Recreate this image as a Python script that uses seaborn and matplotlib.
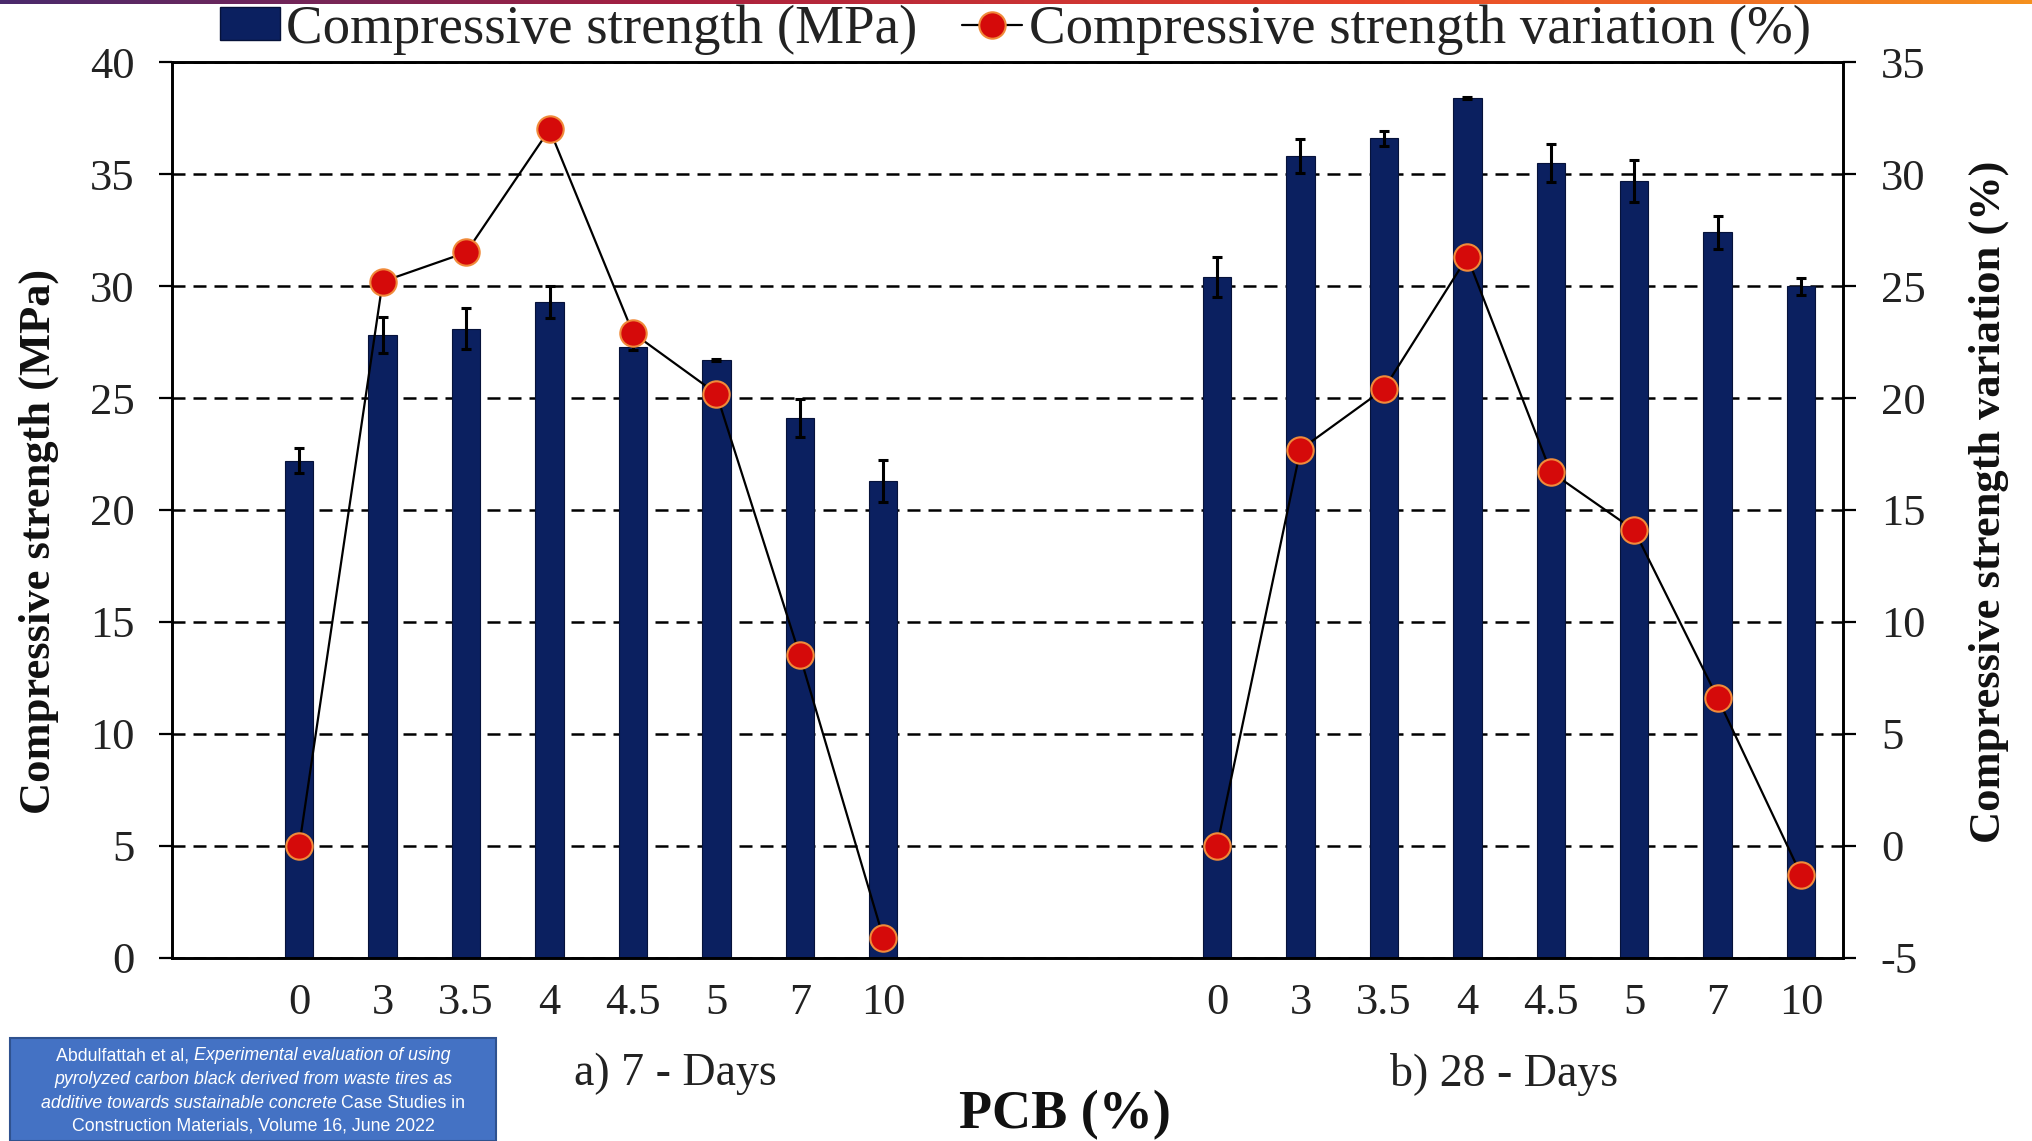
import numpy as np
import pandas as pd
import matplotlib
matplotlib.use('Agg')
import matplotlib.pyplot as plt
import seaborn as sns
from matplotlib.patches import Patch, Rectangle
from matplotlib.lines import Line2D
from matplotlib.colors import LinearSegmentedColormap
import matplotlib.font_manager as fm

# ---------------- data ----------------
pcb_labels = ['0', '3', '3.5', '4', '4.5', '5', '7', '10']
strength_7d = [22.2, 27.8, 28.1, 29.3, 27.3, 26.7, 24.1, 21.3]
err_7d = [0.55, 0.8, 0.92, 0.72, 0.15, 0.06, 0.85, 0.95]
variation_7d = [0.0, 25.2, 26.5, 32.0, 22.9, 20.2, 8.5, -4.1]
strength_28d = [30.4, 35.8, 36.6, 38.4, 35.5, 34.7, 32.4, 30.0]
err_28d = [0.9, 0.75, 0.33, 0.06, 0.85, 0.95, 0.73, 0.38]
variation_28d = [0.0, 17.7, 20.4, 26.3, 16.7, 14.1, 6.6, -1.3]
group_labels = ['a) 7 - Days', 'b) 28 - Days']
legend_labels = ['Compressive strength (MPa)', 'Compressive strength variation (%)']
y_left_label = 'Compressive strength (MPa)'
y_right_label = 'Compressive strength variation (%)'
x_label = 'PCB (%)'

NAVY = '#0b2060'
RED = '#d50a0a'
ORANGE = '#f08a3a'

n = len(pcb_labels)
gap = 4
pos_7 = list(range(n))
pos_28 = [p + n - 1 + gap for p in range(n)]

df = pd.DataFrame({
    'pos': pos_7 + pos_28,
    'strength': strength_7d + strength_28d,
    'err': err_7d + err_28d,
    'variation': variation_7d + variation_28d,
    'age': ['7'] * n + ['28'] * n,
})

# ---------------- style ----------------
sns.set_style('white')
plt.rcParams['font.family'] = ['Liberation Serif', 'DejaVu Serif']
plt.rcParams['axes.unicode_minus'] = False

W, H = 2032, 1141
fig = plt.figure(figsize=(W / 100, H / 100), dpi=100)
fig.patch.set_facecolor('white')

L, R, T, B = 172.4, 1842.8, 62.2, 957.7
ax = fig.add_axes([L / W, 1 - B / H, (R - L) / W, (B - T) / H])

sns.barplot(data=df, x='pos', y='strength', native_scale=True, width=0.34,
            color=NAVY, saturation=1, errorbar=None, edgecolor='#06123a',
            linewidth=0.8, ax=ax)
ax.errorbar(df['pos'], df['strength'], yerr=df['err'], fmt='none',
            ecolor='black', elinewidth=2.2, capsize=3.5, capthick=2.2, zorder=3)

ax.set_ylim(0, 40)
ax.set_yticks(np.arange(0, 41, 5))
ax.set_xlim(-1.52, pos_28[-1] + 0.5)
ax.set_xticks(df['pos'])
ax.set_xticklabels(pcb_labels * 2)
ax.set_axisbelow(True)
ax.yaxis.grid(True, color='black', linestyle=(0, (5.2, 3.2)), linewidth=1.8)
ax.xaxis.grid(False)
ax.set_xlabel('')
ax.set_ylabel('')

ax2 = ax.twinx()
sns.lineplot(data=df, x='pos', y='variation', units='age', estimator=None,
             sort=True, color='black', linewidth=1.6, marker='o', markersize=19,
             markerfacecolor=RED, markeredgecolor=ORANGE, markeredgewidth=1.5,
             ax=ax2, legend=False)
ax2.set_ylim(-5, 35)
ax2.set_yticks(np.arange(-5, 36, 5))
ax2.set_xlim(-1.52, pos_28[-1] + 0.5)
ax2.set_xlabel('')
ax2.set_ylabel('')

for a in (ax, ax2):
    for s in a.spines.values():
        s.set_visible(True)
        s.set_color('black')
        s.set_linewidth(1.9)

ax.tick_params(axis='y', left=True, right=False, direction='out', length=9.4,
               width=1.6, labelsize=32, pad=18, colors='black', labelcolor='#222222')
ax.tick_params(axis='x', bottom=False, length=0, labelsize=32, pad=18,
               labelcolor='#222222')
ax2.tick_params(axis='y', right=True, left=False, direction='out', length=9.4,
                width=1.6, labelsize=32, pad=18, colors='black', labelcolor='#222222')

# axis titles
fig.text(39 / W, 1 - 541 / H, y_left_label, rotation=90, ha='center', va='center',
         fontsize=32, fontweight='bold', color='#111111')
fig.text(1989 / W, 1 - 502 / H, y_right_label, rotation=90, ha='center', va='center',
         fontsize=32, fontweight='bold', color='#111111')
fig.text(1065 / W, 1 - 1115 / H, x_label, ha='center', va='center',
         fontsize=39, fontweight='bold', color='#111111')
fig.text(675 / W, 1 - 1074 / H, group_labels[0], ha='center', va='center',
         fontsize=33, color='#222222')
fig.text(1504 / W, 1 - 1074 / H, group_labels[1], ha='center', va='center',
         fontsize=33, color='#222222')

# legend
handles = [
    Patch(facecolor=NAVY, edgecolor='#06123a'),
    Line2D([], [], color='black', lw=1.6, marker='o', markersize=19,
           markerfacecolor=RED, markeredgecolor=ORANGE, markeredgewidth=1.5),
]
fig.legend(handles, legend_labels, loc='center', bbox_to_anchor=(1015 / W, 1 - 30 / H),
           ncol=2, frameon=False, fontsize=39.5, handlelength=1.1, handleheight=0.55,
           handletextpad=0.12, columnspacing=0.8, labelcolor='#222222')

# top gradient strip
cmap = LinearSegmentedColormap.from_list('strip', ['#4a2a6c', '#a8203f', '#e8432a', '#f5901e'])
ax_top = fig.add_axes([0, 1 - 4 / H, 1, 4 / H])
ax_top.imshow(np.linspace(0, 1, 512)[None, :], aspect='auto', cmap=cmap)
ax_top.set_axis_off()

# citation box
fig.patches.append(Rectangle((10 / W, 0), 486 / W, (1141 - 1038) / H,
                             transform=fig.transFigure, facecolor='#4472c4',
                             edgecolor='#2f528f', linewidth=1.5, zorder=5))
names = {f.name for f in fm.fontManager.ttflist}
if 'Liberation Sans Narrow' in names:
    bfont, bsize = 'Liberation Sans Narrow', 14.5
else:
    bfont, bsize = 'Liberation Sans', 12.8

citation_lines = [
    [('Abdulfattah et al,', 'normal'), ('Experimental evaluation of using', 'italic')],
    [('pyrolyzed carbon black derived from waste tires as', 'italic')],
    [('additive towards sustainable concrete', 'italic'), ('Case Studies in', 'normal')],
    [('Construction Materials, Volume 16, June 2022', 'normal')],
]
line_y = [1056, 1079, 1103, 1126]
renderer = fig.canvas.get_renderer()


def text_w(s, style):
    t = fig.text(0, 0, s, fontsize=bsize, family=[bfont, 'DejaVu Sans'], style=style)
    w = t.get_window_extent(renderer).width
    t.remove()
    return w


space_w = text_w('a a', 'normal') - text_w('aa', 'normal')
cx = 253
for segs, yy in zip(citation_lines, line_y):
    widths = [text_w(s, st) for s, st in segs]
    total = sum(widths) + space_w * (len(segs) - 1)
    x = cx - total / 2
    for (s, st), w in zip(segs, widths):
        fig.text(x / W, 1 - yy / H, s, fontsize=bsize, family=[bfont, 'DejaVu Sans'],
                 style=st, color='white', ha='left', va='center', zorder=6)
        x += w + space_w

fig.savefig('out.png', dpi=100, facecolor='white')
